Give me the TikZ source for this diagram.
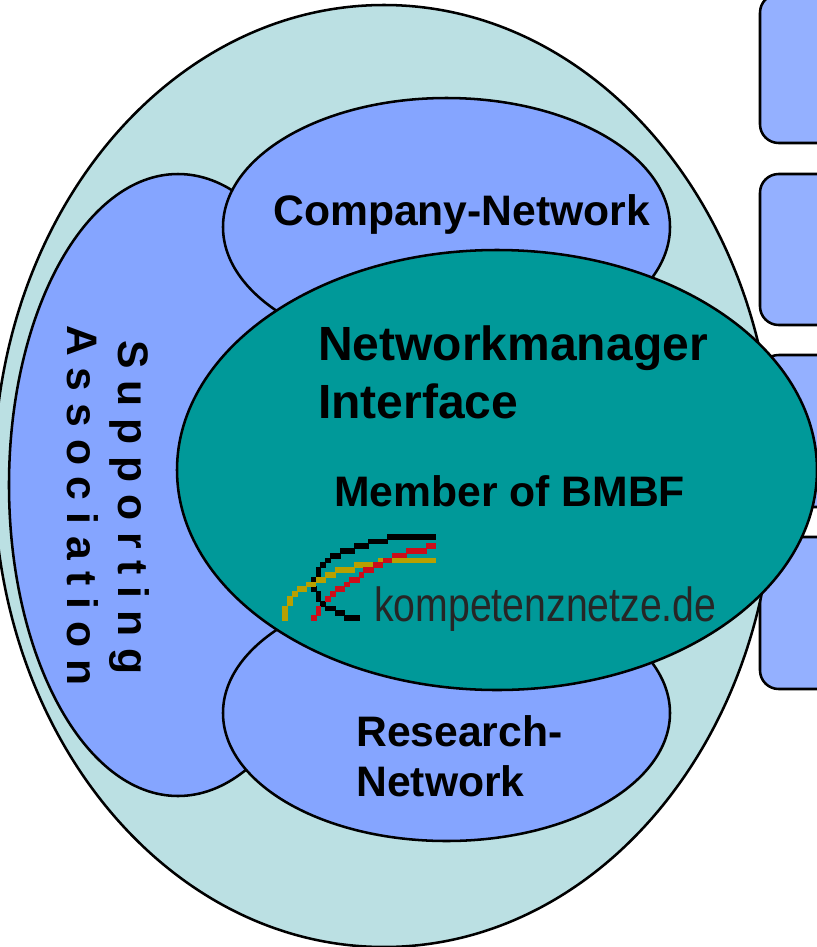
\documentclass[tikz,border=0pt]{standalone}
\usepackage{fontspec}
\setmainfont{Liberation Sans}
\definecolor{paleteal}{HTML}{BBE0E3}
\definecolor{ovalblue}{HTML}{85A5FF}
\definecolor{boxblue}{HTML}{94B0FF}
\definecolor{darkteal}{HTML}{009999}
\definecolor{logored}{HTML}{CC0D1A}
\definecolor{loggold}{HTML}{B8A000}
\tikzset{
  shapeline/.style={draw=black,line width=1.9pt},
  sidebox/.style={shapeline,fill=boxblue,rounded corners=14pt},
  bigtext/.style={font=\fontsize{32}{32}\selectfont\bfseries,inner sep=0pt},
  hugetext/.style={font=\fontsize{36}{36}\selectfont\bfseries,inner sep=0pt}
}
\begin{document}
\begin{tikzpicture}[x=0.75pt,y=-0.75pt]
  \useasboundingbox (0,0) rectangle (817,947);
  \clip (0,0) rectangle (817,947);
  % boxes at the right
  \draw[sidebox] (760,-6) rectangle (840,143);
  \draw[sidebox] (760,174) rectangle (840,325);
  \draw[sidebox] (760,355) rectangle (840,507);
  \draw[sidebox] (760,537) rectangle (840,689);
  % ovals
  \draw[shapeline,fill=paleteal] (384,476) ellipse (390 and 471);
  \draw[shapeline,fill=ovalblue] (178,485) ellipse (169 and 311);
  \draw[shapeline,fill=ovalblue] (446.5,227) ellipse (223.5 and 129);
  \draw[shapeline,fill=ovalblue] (446.5,713) ellipse (223.5 and 128);
  \draw[shapeline,fill=darkteal] (497,470) ellipse (320 and 220);
  % labels
  \node[bigtext,anchor=base west] (company) at (273,225) {Company-Network};
  \node[hugetext,anchor=base west] (manager) at (318,360) {Networkmanager};
  \node[hugetext,anchor=base west] (interface) at (318,418) {Interface};
  \node[bigtext,anchor=base west] (member) at (334,506) {Member of BMBF};
  \node[bigtext,anchor=base west] (research) at (356,746) {Research-};
  \node[bigtext,anchor=base west] (network) at (356,796) {Network};
  \node[bigtext,anchor=base west,rotate=-90] (supporting) at (118,340) {S u p p o r t i n g};
  \node[bigtext,anchor=base west,rotate=-90] (association) at (67,325) {A s s o c i a t i o n};
  % logo, runs read off the zoomed crop
  \begin{scope}[shift={(260,510)},x=0.25pt,y=-0.25pt]
    \foreach \xa/\ya/\xb/\yb in {382/72/528/90,325/87/384/102,282/99/328/117,240/114/285/132,
      210/129/243/147,195/144/213/159,180/156/198/174,168/171/183/201,153/201/168/216,
      153/228/171/246,168/243/183/276,180/273/198/291,195/288/228/303,225/300/255/318,252/315/300/333}
      \fill[black] (\xa,\ya) rectangle (\xb,\yb);
    \foreach \xa/\ya/\xb/\yb in {396/144/528/159,354/144/369/156,282/156/339/174,225/171/285/189,
      195/186/228/204,168/201/198/219,138/216/168/231,111/228/141/246,96/243/114/261,
      81/258/99/288,66/288/84/333}
      \fill[loggold] (\xa,\ya) rectangle (\xb,\yb);
    \foreach \xa/\ya/\xb/\yb in {498/99/528/117,438/114/501/132,396/129/441/145,369/144/396/159,
      339/156/369/174,309/171/342/189,297/186/312/204,267/201/300/219,252/216/270/231,
      225/228/255/246,210/243/228/261,195/258/213/276,168/288/183/318,153/315/171/333}
      \fill[logored] (\xa,\ya) rectangle (\xb,\yb);
  \end{scope}
  \node[anchor=base west,inner sep=0pt,text=black!85] (logotext) at (374,621)
    {\scalebox{0.817}[1]{\fontsize{36}{36}\selectfont kompetenznetze.de}};
\end{tikzpicture}
\end{document}
